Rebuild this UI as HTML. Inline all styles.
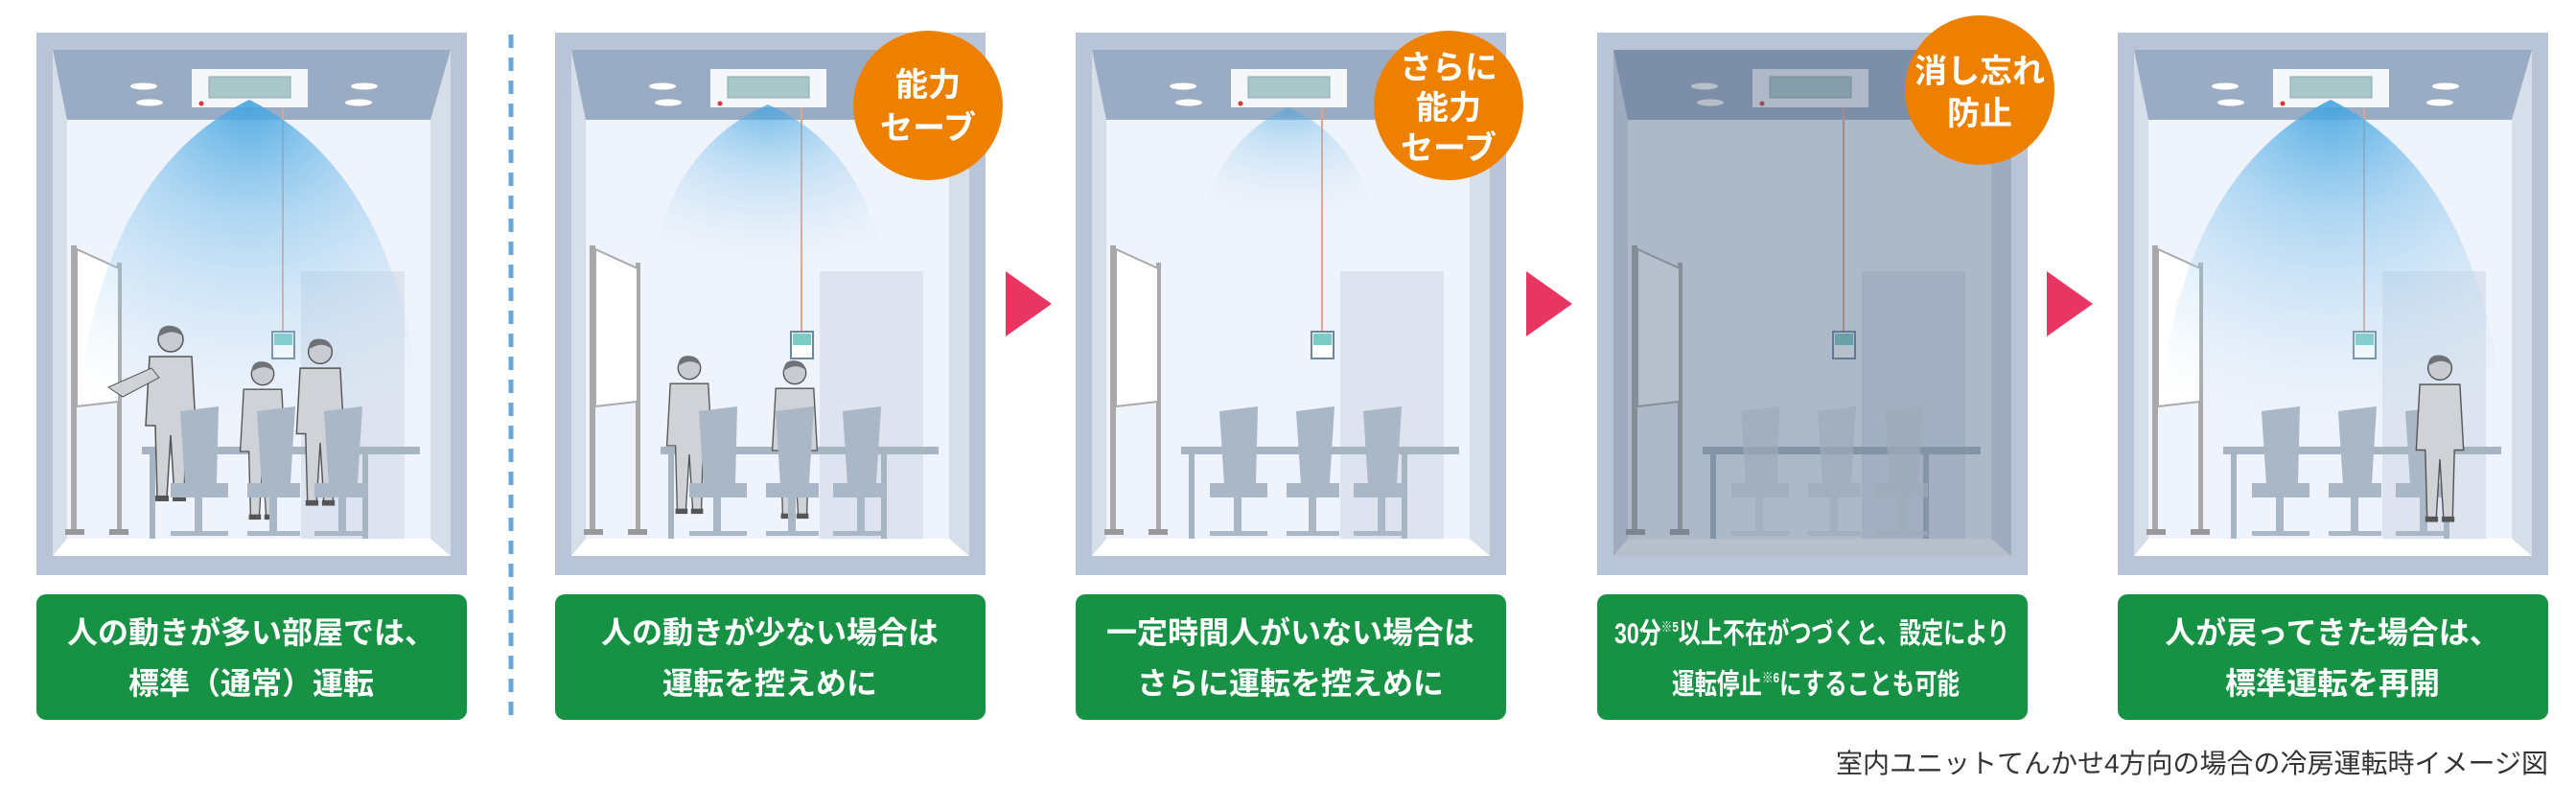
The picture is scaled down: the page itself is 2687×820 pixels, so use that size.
<!DOCTYPE html>
<html><head><meta charset="utf-8"><style>
html,body{margin:0;padding:0;background:#fff;}
svg{display:block;}
text{font-family:"Liberation Sans","Noto Sans CJK JP",sans-serif;}
</style></head><body>
<svg width="2687" height="820" viewBox="0 0 2687 820" xmlns="http://www.w3.org/2000/svg">
<defs>
<radialGradient id="air" cx="0.5" cy="0" r="1" fx="0.5" fy="0">
<stop offset="0" stop-color="#3fa3e0" stop-opacity="0.9"/>
<stop offset="0.35" stop-color="#7cc0ec" stop-opacity="0.55"/>
<stop offset="1" stop-color="#cfe6f7" stop-opacity="0"/>
</radialGradient>
<g id="room">
<rect x="0" y="0" width="449" height="566" fill="#b9c5d6"/>
<rect x="17" y="18" width="415" height="528" fill="#d6deea"/>
<rect x="32" y="91" width="379" height="437" fill="#eff3fb"/>
<polygon points="17,18 432,18 411,91 32,91" fill="#9aabc4"/>
<polygon points="32,528 411,528 432,546 17,546" fill="#ffffff"/>
<ellipse cx="112" cy="56" rx="14" ry="3.5" fill="#fff"/>
<ellipse cx="118" cy="73" rx="14" ry="3.5" fill="#fff"/>
<ellipse cx="342" cy="56" rx="14" ry="3.5" fill="#fff"/>
<ellipse cx="336" cy="73" rx="14" ry="3.5" fill="#fff"/>
<rect x="276" y="249" width="108" height="279" fill="#dde4ef"/>
<rect x="36" y="222" width="6" height="300" fill="#a9a9a9"/>
<rect x="84" y="240" width="5" height="282" fill="#a9a9a9"/>
<polygon points="42,226 86,246 86,385 42,390" fill="#fff" stroke="#a9a9a9" stroke-width="2"/>
<rect x="30" y="518" width="20" height="6" fill="#999"/>
<rect x="76" y="518" width="20" height="6" fill="#999"/>
<rect x="110" y="432" width="290" height="8" fill="#a7b5c3"/>
<rect x="118" y="440" width="6" height="88" fill="#a7b5c3"/>
<rect x="340" y="440" width="6" height="88" fill="#a7b5c3"/>
<line x1="257" y1="78" x2="257" y2="312" stroke="#e0a48e" stroke-width="2"/>
<rect x="246" y="312" width="23" height="28" fill="#fff" stroke="#6a86a0" stroke-width="2"/>
<rect x="248" y="314" width="19" height="12" fill="#7ccac4"/>
<rect x="162" y="38" width="121" height="40" fill="#f4f6fa"/>
<rect x="180" y="46" width="85" height="22" fill="#a9c6c8" stroke="#8aa" stroke-width="1"/>
<circle cx="172" cy="74" r="2.5" fill="#d33"/>
</g>
<g id="chairs">
<path d="M150,395 L190,390 L188,470 L155,472 Z M140,470 L200,470 L200,485 L140,485 Z M165,485 h8 v35 h-8 Z M140,520 h60 v5 h-60 Z" fill="#a9b7c6"/>
<path d="M230,395 L270,390 L265,470 L235,472 Z M220,470 L275,470 L275,485 L220,485 Z M243,485 h8 v35 h-8 Z M220,520 h55 v5 h-55 Z" fill="#a9b7c6"/>
<path d="M300,395 L340,390 L335,470 L305,472 Z M290,470 L345,470 L345,485 L290,485 Z M315,485 h8 v35 h-8 Z M290,520 h55 v5 h-55 Z" fill="#a9b7c6"/>
</g>
<g id="person">
<circle cx="0" cy="0" r="13" fill="#c8ccd2" stroke="#555" stroke-width="1.5"/>
<path d="M-13,-3 Q-12,-16 2,-14 Q12,-12 12,-4 L8,-6 Q0,-10 -10,-4 Z" fill="#6e7277"/>
<path d="M-22,18 L22,18 L26,90 L16,90 L14,165 L4,165 L0,100 L-4,165 L-14,165 L-16,90 L-26,90 Z" fill="#cfd3d8" stroke="#555" stroke-width="1.5"/>
<rect x="-16" y="163" width="14" height="6" fill="#555"/><rect x="2" y="163" width="14" height="6" fill="#555"/>
</g>
</defs>

<g transform="translate(38,34)">
<use href="#room"/>
<path d="M40,420 Q60,150 222,70 Q384,150 404,420 Z" fill="url(#air)"/>
<use href="#person" transform="translate(140,320)"/>
<use href="#person" transform="translate(236,356) scale(0.9)"/>
<use href="#person" transform="translate(296,333) scale(0.95)"/>
<use href="#chairs"/>
<path d="M75,370 L120,350 L128,360 L90,380 Z" fill="#cfd3d8" stroke="#555"/>
</g>
<rect x="38" y="620" width="449" height="131" rx="10" fill="#179244"/>
<text x="262" y="671" font-size="32" fill="#fff" text-anchor="middle" font-weight="bold">人の動きが多い部屋では、</text>
<text x="262" y="724" font-size="32" fill="#fff" text-anchor="middle" font-weight="bold">標準（通常）運転</text>

<line x1="533" y1="36" x2="533" y2="752" stroke="#6aa8dc" stroke-width="5" stroke-dasharray="14,10"/>

<g transform="translate(579,34)">
<use href="#room"/>
<path d="M100,250 Q120,120 222,75 Q324,120 344,250 Z" fill="url(#air)" opacity="0.8"/>
<use href="#person" transform="translate(140,350) scale(0.9)"/>
<use href="#person" transform="translate(250,355) scale(0.9)"/>
<use href="#chairs"/>
</g>
<circle cx="968" cy="110" r="78" fill="#ee8000"/>
<text x="968" y="100" font-size="34" fill="#fff" text-anchor="middle" font-weight="bold">能力</text>
<text x="968" y="145" font-size="34" fill="#fff" text-anchor="middle" font-weight="bold">セーブ</text>
<rect x="579" y="620" width="449" height="131" rx="10" fill="#179244"/>
<text x="803" y="671" font-size="32" fill="#fff" text-anchor="middle" font-weight="bold">人の動きが少ない場合は</text>
<text x="803" y="724" font-size="32" fill="#fff" text-anchor="middle" font-weight="bold">運転を控えめに</text>

<polygon points="1049,283 1097,317 1049,351" fill="#e83562"/>

<g transform="translate(1122,34)">
<use href="#room"/>
<path d="M130,200 Q150,110 222,78 Q294,110 314,200 Z" fill="url(#air)" opacity="0.55"/>
<use href="#chairs"/>
</g>
<circle cx="1511" cy="110" r="78" fill="#ee8000"/>
<text x="1511" y="82" font-size="34" fill="#fff" text-anchor="middle" font-weight="bold">さらに</text>
<text x="1511" y="124" font-size="34" fill="#fff" text-anchor="middle" font-weight="bold">能力</text>
<text x="1511" y="166" font-size="34" fill="#fff" text-anchor="middle" font-weight="bold">セーブ</text>
<rect x="1122" y="620" width="449" height="131" rx="10" fill="#179244"/>
<text x="1346" y="671" font-size="32" fill="#fff" text-anchor="middle" font-weight="bold">一定時間人がいない場合は</text>
<text x="1346" y="724" font-size="32" fill="#fff" text-anchor="middle" font-weight="bold">さらに運転を控えめに</text>

<polygon points="1592,283 1640,317 1592,351" fill="#e83562"/>

<g transform="translate(1666,34)">
<use href="#room"/>
<rect x="17" y="18" width="415" height="528" fill="#5d6f8c" opacity="0.35"/>
<g opacity="0.7"><use href="#chairs"/></g>
<rect x="17" y="18" width="415" height="528" fill="#4e5d75" opacity="0.12"/>
</g>
<circle cx="2065" cy="94" r="78" fill="#ee8000"/>
<text x="2065" y="86" font-size="34" fill="#fff" text-anchor="middle" font-weight="bold">消し忘れ</text>
<text x="2065" y="130" font-size="34" fill="#fff" text-anchor="middle" font-weight="bold">防止</text>
<rect x="1666" y="620" width="449" height="131" rx="10" fill="#179244"/>
<text x="1684" y="671" font-size="30" fill="#fff" font-weight="bold" textLength="412" lengthAdjust="spacingAndGlyphs">30分<tspan font-size="15" dy="-12">※5</tspan><tspan dy="12">以上不在がつづくと、設定により</tspan></text>
<text x="1744" y="724" font-size="30" fill="#fff" font-weight="bold" textLength="300" lengthAdjust="spacingAndGlyphs">運転停止<tspan font-size="15" dy="-12">※6</tspan><tspan dy="12">にすることも可能</tspan></text>

<polygon points="2135,283 2183,317 2135,351" fill="#e83562"/>

<g transform="translate(2209,34)">
<use href="#room"/>
<path d="M40,420 Q60,150 222,70 Q384,150 404,420 Z" fill="url(#air)"/>
<use href="#chairs"/>
<use href="#person" transform="translate(336,350) scale(0.95)"/>
</g>
<rect x="2209" y="620" width="449" height="131" rx="10" fill="#179244"/>
<text x="2433" y="671" font-size="32" fill="#fff" text-anchor="middle" font-weight="bold">人が戻ってきた場合は、</text>
<text x="2433" y="724" font-size="32" fill="#fff" text-anchor="middle" font-weight="bold">標準運転を再開</text>

<text x="2658" y="806" font-size="28" fill="#333" text-anchor="end">室内ユニットてんかせ4方向の場合の冷房運転時イメージ図</text>
</svg>
</body></html>
